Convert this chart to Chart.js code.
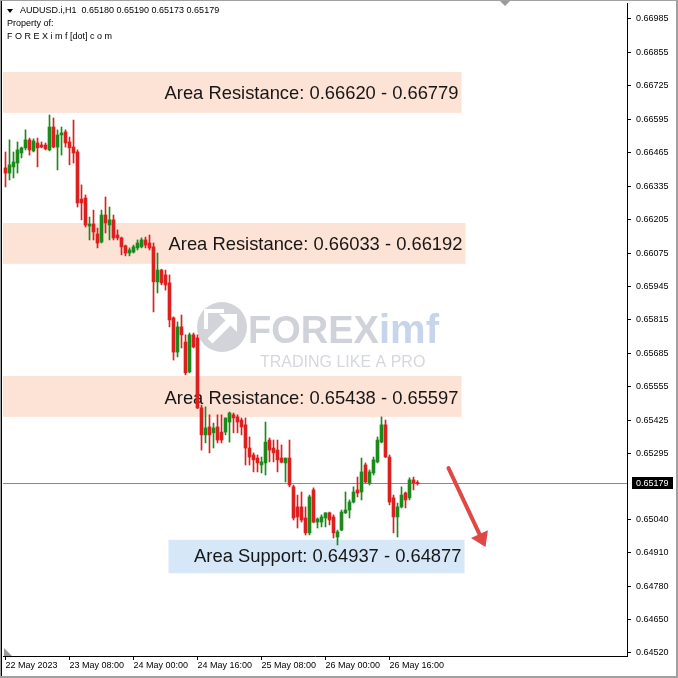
<!DOCTYPE html>
<html><head><meta charset="utf-8">
<script src="https://cdn.jsdelivr.net/npm/chart.js@4.4.0/dist/chart.umd.min.js"></script>
<style>html,body{margin:0;padding:0;background:#fff;overflow:hidden}canvas{display:block}</style>
</head><body>
<canvas id="c" width="678" height="678"></canvas>
<script>
const symbol = 'AUDUSD.i,H1';
const timeLabels = ['22 May 2023','23 May 08:00','24 May 00:00','24 May 16:00','25 May 08:00','26 May 00:00','26 May 16:00'];
const timeLabelBars = [0,16,32,48,64,80,96];
const priceTicks = [0.64520,0.64650,0.64780,0.64910,0.65040,0.65295,0.65425,0.65555,0.65685,0.65815,0.65945,0.66075,0.66205,0.66335,0.66465,0.66595,0.66725,0.66855,0.66985];

const opens = [0.66406,0.66386,0.66410,0.66425,0.66464,0.66484,0.66515,0.66472,0.66503,0.66495,
0.66495,0.66476,0.66565,0.66487,0.66534,0.66546,0.66507,0.66487,0.66468,0.66285,
0.66289,0.66180,0.66188,0.66149,0.66118,0.66223,0.66184,0.66204,0.66145,0.66134,
0.66103,0.66075,0.66079,0.66095,0.66099,0.66126,0.66114,0.66099,0.65963,0.66009,
0.65990,0.65959,0.65823,0.65690,0.65788,0.65729,0.65613,0.65757,0.65745,0.65473,
0.65368,0.65399,0.65376,0.65399,0.65379,0.65379,0.65418,0.65446,0.65438,0.65426,
0.65407,0.65317,0.65290,0.65278,0.65251,0.65259,0.65348,0.65317,0.65309,0.65278,
0.65259,0.65278,0.65166,0.65088,0.65088,0.65045,0.64987,0.65154,0.65029,0.65029,
0.65045,0.65065,0.65049,0.64971,0.64998,0.65065,0.65076,0.65107,0.65154,0.65146,
0.65251,0.65181,0.65220,0.65263,0.65340,0.65407,0.65282,0.65123,0.65049,0.65088,
0.65142,0.65123,0.65193,0.65180];
const highs = [0.66468,0.66515,0.66468,0.66507,0.66487,0.66554,0.66522,0.66519,0.66522,0.66507,
0.66503,0.66612,0.66600,0.66554,0.66565,0.66554,0.66526,0.66592,0.66476,0.66340,
0.66301,0.66215,0.66242,0.66172,0.66242,0.66293,0.66254,0.66223,0.66165,0.66137,
0.66106,0.66095,0.66106,0.66126,0.66134,0.66137,0.66145,0.66114,0.66075,0.66012,
0.66009,0.65990,0.65827,0.65807,0.65834,0.65757,0.65764,0.65764,0.65757,0.65484,
0.65477,0.65446,0.65414,0.65446,0.65446,0.65434,0.65457,0.65453,0.65446,0.65434,
0.65434,0.65360,0.65298,0.65290,0.65282,0.65418,0.65356,0.65348,0.65348,0.65329,
0.65278,0.65348,0.65173,0.65134,0.65146,0.65088,0.65134,0.65162,0.65045,0.65057,
0.65065,0.65068,0.65057,0.64998,0.65076,0.65146,0.65115,0.65166,0.65204,0.65278,
0.65259,0.65232,0.65282,0.65360,0.65438,0.65426,0.65290,0.65134,0.65103,0.65166,
0.65146,0.65201,0.65204,0.65190];
const lows = [0.66332,0.66359,0.66367,0.66386,0.66445,0.66476,0.66456,0.66468,0.66410,0.66484,
0.66476,0.66472,0.66484,0.66398,0.66456,0.66487,0.66418,0.66425,0.66254,0.66204,
0.66176,0.66126,0.66126,0.66095,0.66114,0.66153,0.66126,0.66126,0.66126,0.66068,
0.66064,0.66064,0.66075,0.66087,0.66095,0.66095,0.66087,0.65846,0.65920,0.65951,
0.65931,0.65788,0.65659,0.65671,0.65706,0.65601,0.65609,0.65706,0.65470,0.65309,
0.65337,0.65298,0.65317,0.65337,0.65337,0.65368,0.65340,0.65376,0.65376,0.65368,
0.65251,0.65251,0.65224,0.65224,0.65220,0.65212,0.65263,0.65263,0.65224,0.65259,
0.65185,0.65166,0.65037,0.65006,0.65029,0.64979,0.64979,0.65026,0.65006,0.65010,
0.65010,0.65018,0.64967,0.64940,0.64995,0.65062,0.65045,0.65103,0.65127,0.65115,
0.65181,0.65173,0.65212,0.65259,0.65337,0.65280,0.65096,0.64987,0.64971,0.65084,
0.65084,0.65115,0.65154,0.65173];
const closes = [0.66386,0.66418,0.66429,0.66476,0.66484,0.66515,0.66476,0.66511,0.66484,0.66487,
0.66480,0.66565,0.66487,0.66534,0.66542,0.66503,0.66484,0.66464,0.66270,0.66270,
0.66184,0.66188,0.66157,0.66114,0.66223,0.66192,0.66204,0.66134,0.66134,0.66099,
0.66075,0.66087,0.66099,0.66114,0.66126,0.66106,0.66095,0.65963,0.66009,0.65959,
0.65951,0.65815,0.65690,0.65788,0.65757,0.65609,0.65757,0.65710,0.65473,0.65368,
0.65395,0.65368,0.65395,0.65348,0.65348,0.65434,0.65453,0.65434,0.65418,0.65399,
0.65317,0.65282,0.65271,0.65259,0.65263,0.65340,0.65309,0.65298,0.65271,0.65262,
0.65278,0.65173,0.65045,0.65049,0.65037,0.64987,0.65127,0.65029,0.65041,0.65049,
0.65065,0.65037,0.64987,0.64991,0.65068,0.65076,0.65107,0.65146,0.65142,0.65224,
0.65185,0.65224,0.65271,0.65348,0.65407,0.65282,0.65107,0.65049,0.65088,0.65134,
0.65115,0.65193,0.65181,0.65179];

const zoneKind = ['resistance','resistance','resistance','support'];
const zoneLow = [0.66620,0.66033,0.65438,0.64830];
const zoneHigh = [0.66779,0.66192,0.65597,0.64960];
const zoneStartBar = [-2,-2,-2,40.75];
const zoneEndBar = [114,115,114,114.75];
const zoneText = ['Area Resistance: 0.66620 - 0.66779','Area Resistance: 0.66033 - 0.66192','Area Resistance: 0.65438 - 0.65597','Area Support: 0.64937 - 0.64877'];
const arrowFrom = [110.75, 0.65239];
const arrowTo = [120, 0.64932];

const UP = '#1b8a1b', DOWN = '#dc1f1f';
const colors = opens.map((o,i)=> closes[i] >= o ? UP : DOWN);
const bodyData = opens.map((o,i)=>({x:i, y:[o, closes[i]]}));
const wickData = lows.map((l,i)=>({x:i, y:[l, highs[i]]}));
const SMALL = '9px "Liberation Sans", Arial, sans-serif';

const decor = {
  id:'decor',
  beforeDraw(chart){
    const c = chart.ctx; c.save(); c.fillStyle='#fff'; c.fillRect(0,0,chart.width,chart.height); c.restore();
  },
  beforeDatasetsDraw(chart){
    const {ctx, chartArea:a, scales:{x,y}} = chart;
    ctx.save();
    ctx.beginPath(); ctx.rect(a.left,a.top,a.right-a.left,a.bottom-a.top); ctx.clip();
    // watermark
    const cx=(a.left+a.right)/2, cy=(a.top+a.bottom)/2;
    const lx=cx-93, ly=cy-2.5;
    ctx.fillStyle='#d3d4da'; ctx.beginPath(); ctx.arc(lx,ly,25,0,Math.PI*2); ctx.fill();
    ctx.strokeStyle='#fff'; ctx.lineWidth=7; ctx.lineCap='butt';
    ctx.beginPath(); ctx.moveTo(lx-12,ly+14); ctx.lineTo(lx+9,ly-7); ctx.stroke();
    ctx.fillStyle='#fff'; ctx.beginPath(); ctx.moveTo(lx+15,ly-13); ctx.lineTo(lx-3,ly-13); ctx.lineTo(lx+15,ly+5); ctx.closePath(); ctx.fill();
    ctx.lineWidth=4; ctx.beginPath(); ctx.moveTo(lx-16,ly+2); ctx.lineTo(lx-16,ly-16); ctx.lineTo(lx+2,ly-16); ctx.stroke();
    ctx.textAlign='left'; ctx.textBaseline='alphabetic';
    ctx.font='bold 38px "Liberation Sans", Arial, sans-serif'; ctx.fillStyle='#d0d2d9';
    ctx.fillText('FOREX', cx-67, cy+13.5);
    ctx.font='bold 40px "Liberation Sans", Arial, sans-serif'; ctx.fillStyle='#c6d5eb';
    ctx.fillText('imf', cx+64, cy+13.5);
    ctx.font='16px "Liberation Sans", Arial, sans-serif'; ctx.fillStyle='#d6d7dc';
    ctx.fillText('TRADING LIKE A PRO', cx-55, cy+37.5);
    // zones
    zoneHigh.forEach((hi,k)=>{
      const x0=x.getPixelForValue(zoneStartBar[k]), x1=x.getPixelForValue(zoneEndBar[k]);
      const y0=y.getPixelForValue(hi), y1=y.getPixelForValue(zoneLow[k]);
      ctx.fillStyle = zoneKind[k]==='support' ? '#d6e7f8' : '#fde2d6';
      ctx.fillRect(x0,y0,x1-x0,y1-y0);
    });
    // current price line
    const py = Math.round(y.getPixelForValue(closes[closes.length-1]))+0.5;
    ctx.strokeStyle='#8a8a8a'; ctx.lineWidth=1; ctx.beginPath(); ctx.moveTo(a.left,py); ctx.lineTo(a.right,py); ctx.stroke();
    // zone labels
    ctx.font='20px "Liberation Sans", Arial, sans-serif';
    const w0 = ctx.measureText(zoneText[0]).width;
    const fs = 20*294/w0;
    ctx.font = fs.toFixed(2)+'px "Liberation Sans", Arial, sans-serif';
    ctx.fillStyle='#161616'; ctx.textAlign='right'; ctx.textBaseline='middle';
    zoneHigh.forEach((hi,k)=>{
      const x1=x.getPixelForValue(zoneEndBar[k]);
      const ym=(y.getPixelForValue(hi)+y.getPixelForValue(zoneLow[k]))/2;
      ctx.fillText(zoneText[k], x1-3, ym+(zoneKind[k]==='support'?0:2));
    });
    ctx.restore();
  },
  afterDraw(chart){
    const {ctx, chartArea:a, scales:{x,y}} = chart;
    ctx.save();
    // arrow
    const X0=x.getPixelForValue(arrowFrom[0]), Y0=y.getPixelForValue(arrowFrom[1]);
    const X1=x.getPixelForValue(arrowTo[0]), Y1=y.getPixelForValue(arrowTo[1]);
    const ang=Math.atan2(Y1-Y0,X1-X0), hl=17, ha=0.58;
    ctx.strokeStyle='#e04848'; ctx.fillStyle='#e04848'; ctx.lineWidth=4; ctx.lineCap='round';
    ctx.beginPath(); ctx.moveTo(X0,Y0); ctx.lineTo(X1-hl*0.8*Math.cos(ang), Y1-hl*0.8*Math.sin(ang)); ctx.stroke();
    ctx.beginPath(); ctx.moveTo(X1,Y1);
    ctx.lineTo(X1-hl*Math.cos(ang-ha), Y1-hl*Math.sin(ang-ha));
    ctx.lineTo(X1-hl*Math.cos(ang+ha), Y1-hl*Math.sin(ang+ha));
    ctx.closePath(); ctx.fill();
    // header
    ctx.fillStyle='#000'; ctx.font=SMALL; ctx.textAlign='left'; ctx.textBaseline='middle';
    ctx.beginPath(); ctx.moveTo(7,9); ctx.lineTo(13,9); ctx.lineTo(10,13); ctx.closePath(); ctx.fill();
    const n=closes.length-1;
    ctx.fillText(symbol+'  '+[opens[n],highs[n],lows[n],closes[n]].map(v=>v.toFixed(5)).join(' '), 20, 11);
    ctx.fillText('Property of:', 7, 24);
    ctx.fillText('F O R E X i m f [dot] c o m', 7, 37);
    // current price label
    const py = Math.round(y.getPixelForValue(closes[n]));
    ctx.fillStyle='#000'; ctx.fillRect(a.right+5, py-6, 41, 12);
    ctx.fillStyle='#fff'; ctx.fillText(closes[n].toFixed(5), a.right+9, py+0.5);
    // markers
    ctx.fillStyle='#9a9a9a';
    ctx.beginPath(); ctx.moveTo(499,0); ctx.lineTo(511,0); ctx.lineTo(505,6); ctx.closePath(); ctx.fill();
    ctx.beginPath(); ctx.moveTo(a.left+1,a.bottom-8); ctx.lineTo(a.left+1,a.bottom); ctx.lineTo(a.left+9,a.bottom); ctx.closePath(); ctx.fill();
    // frame
    ctx.fillStyle='#a0a0a0';
    ctx.fillRect(0,0,678,1); ctx.fillRect(0,0,1,678); ctx.fillRect(676,0,2,678); ctx.fillRect(0,676,678,2);
    ctx.fillStyle='#000'; ctx.fillRect(1,1,1,675);
    ctx.restore();
  }
};

new Chart(document.getElementById('c').getContext('2d'), {
  type:'bar',
  data:{datasets:[
    {label:'wick', data:wickData, backgroundColor:colors, barThickness:1, grouped:false, order:2},
    {label:'body', data:bodyData, backgroundColor:colors, barThickness:3, grouped:false, minBarLength:1, order:1}
  ]},
  options:{
    responsive:false, animation:false, devicePixelRatio:1,
    layout:{padding:{top:3,left:3,right:0,bottom:0}},
    plugins:{legend:{display:false}, tooltip:{enabled:false}},
    scales:{
      x:{type:'linear', min:-0.625, max:155.375, offset:false,
        grid:{display:true, drawOnChartArea:false, drawTicks:true, tickLength:4, color:'#000', offset:false},
        border:{display:true, color:'#000'},
        ticks:{align:'start', autoSkip:false, maxRotation:0, minRotation:0, padding:0, color:'#000', font:{family:'"Liberation Sans", Arial, sans-serif', size:9},
          callback:(v)=>{const k=timeLabelBars.indexOf(v); return k<0?'':timeLabels[k];}},
        afterBuildTicks:(s)=>{s.ticks = timeLabelBars.map(v=>({value:v}));},
        afterFit:(s)=>{s.height=22; s.paddingLeft=0; s.paddingRight=0;}
      },
      y:{type:'linear', position:'right', min:0.645083, max:0.670472,
        grid:{display:true, drawOnChartArea:false, drawTicks:true, tickLength:4, color:'#000'},
        border:{display:true, color:'#000'},
        ticks:{padding:5, color:'#000', font:{family:'"Liberation Sans", Arial, sans-serif', size:9}, callback:(v)=>v.toFixed(5)},
        afterBuildTicks:(s)=>{s.ticks = priceTicks.map(v=>({value:v}));},
        afterFit:(s)=>{s.width=51; s.paddingTop=0; s.paddingBottom=0;}
      }
    }
  },
  plugins:[decor]
});
</script>
</body></html>
